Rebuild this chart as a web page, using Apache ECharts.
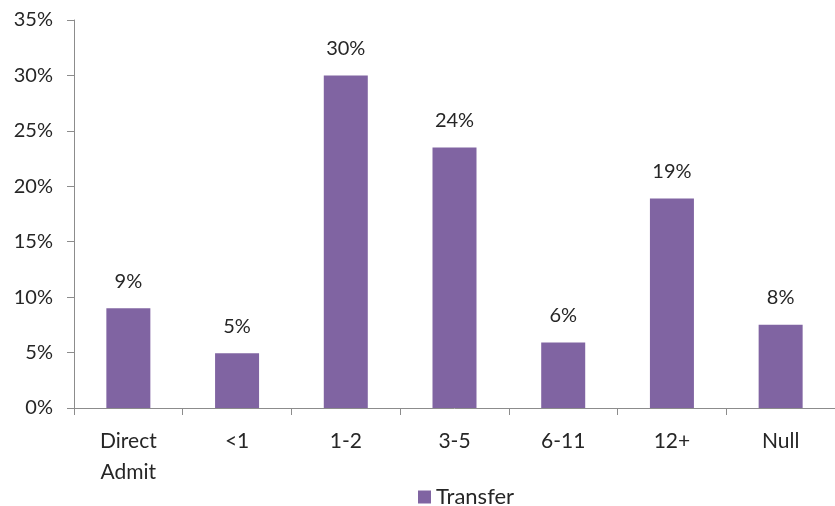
<!DOCTYPE html>
<html><head><meta charset="utf-8">
<script src="https://cdn.jsdelivr.net/npm/echarts@6/dist/echarts.min.js"></script>
<style>html,body{margin:0;padding:0;background:#fff}#c{width:835px;height:506px}</style>
</head><body><div id="c"></div>
<script>
const categories = ['Direct\nAdmit', '<1', '1-2', '3-5', '6-11', '12+', 'Null'];
const transfer = [9.0, 4.95, 30.0, 23.5, 5.9, 18.9, 7.5];
const seriesName = 'Transfer';
const font = 'Lato, "Open Sans", sans-serif';
const chart = echarts.init(document.getElementById('c'));
chart.setOption({
  animation: false,
  grid: {left: 74, top: 20, width: 765, height: 388, containLabel: false},
  legend: {
    data: [seriesName], top: 481, left: 413, itemWidth: 13, itemHeight: 13, itemGap: 7,
    textStyle: {fontFamily: font, fontSize: 22, color: '#262626'}, icon: 'rect'
  },
  xAxis: {
    type: 'category', data: categories,
    axisLine: {lineStyle: {color: '#8c8c8c', width: 1}},
    axisTick: {show: true, length: 7, lineStyle: {color: '#8c8c8c'}},
    axisLabel: {fontFamily: font, fontSize: 21, color: '#262626', margin: 18, lineHeight: 31, interval: 0}
  },
  yAxis: {
    type: 'value', min: 0, max: 35, interval: 5,
    axisLine: {show: true, lineStyle: {color: '#8c8c8c', width: 1}},
    axisTick: {show: true, length: 7, lineStyle: {color: '#8c8c8c'}},
    splitLine: {show: false},
    axisLabel: {fontFamily: font, fontSize: 20, color: '#262626', margin: 21, formatter: v => v + '%'}
  },
  series: [{
    name: seriesName, type: 'bar', data: transfer, barWidth: 44,
    itemStyle: {color: '#8064A2'},
    label: {show: true, position: 'top', distance: 17, fontFamily: font, fontSize: 20, color: '#262626',
      formatter: p => Math.round(p.value) + '%'}
  }]
});
</script></body></html>
